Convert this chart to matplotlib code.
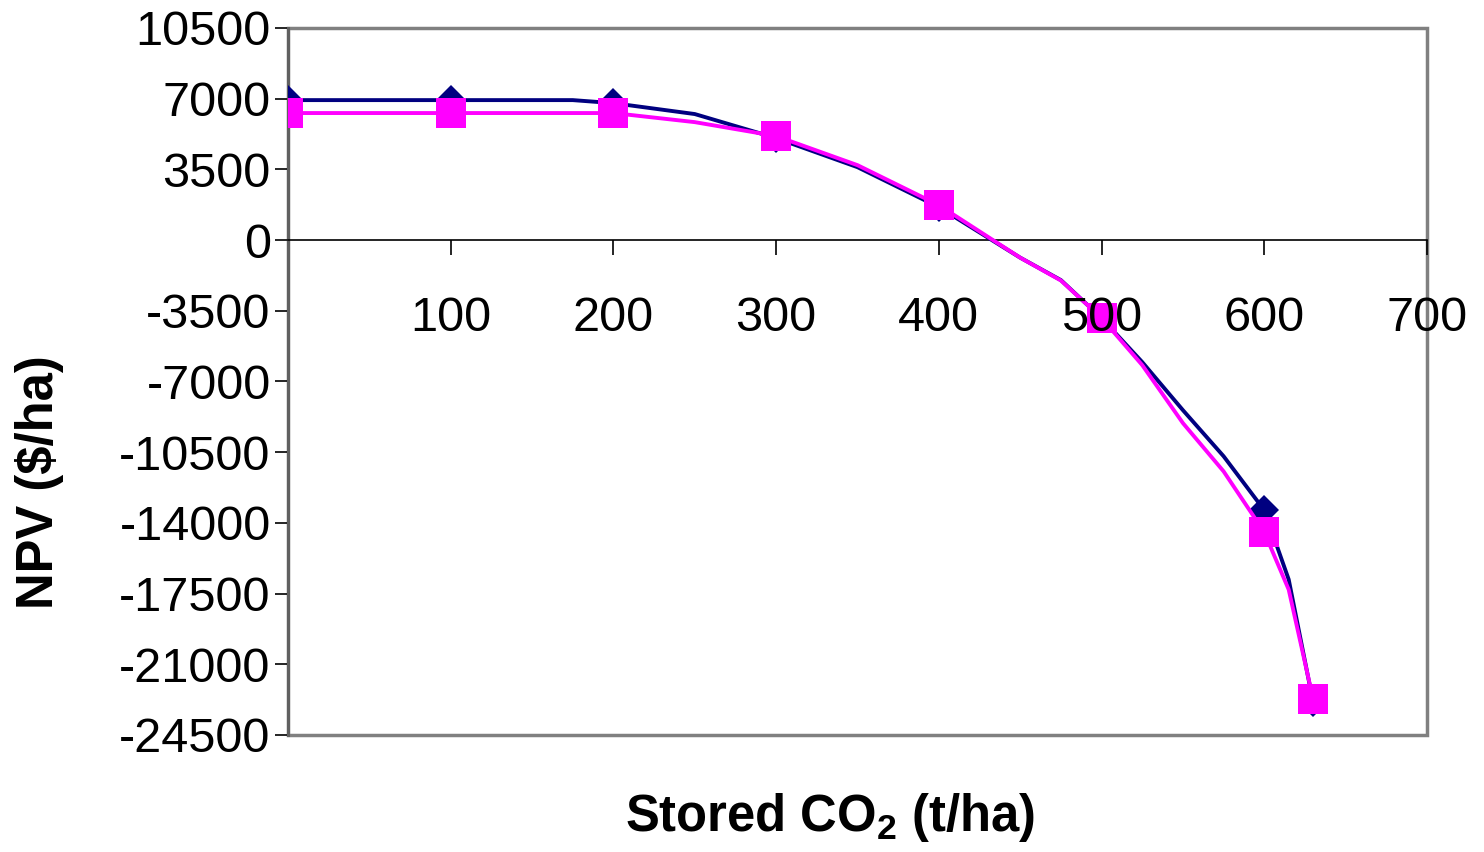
import numpy as np
import matplotlib
matplotlib.use("Agg")
from matplotlib import pyplot as plt
from matplotlib.patches import Rectangle

plt.rcParams['font.family'] = ['Liberation Sans', 'DejaVu Sans']
plt.rcParams['axes.unicode_minus'] = False
plt.rcParams['mathtext.fontset'] = 'custom'
plt.rcParams['mathtext.rm'] = 'Liberation Sans'
plt.rcParams['mathtext.bf'] = 'Liberation Sans:bold'

# stored CO2 (t/ha) along the curves
stored_co2 = [0, 100, 175, 200, 250, 300, 350, 400, 450, 475, 500, 525, 550, 575, 600, 615, 630]
# NPV ($/ha) for the two series
npv_navy = [6930, 6930, 6930, 6780, 6240, 5050, 3610, 1630, -870, -1980, -3860,
            -6040, -8420, -10700, -13370, -16800, -22870]
npv_magenta = [6290, 6290, 6290, 6290, 5840, 5150, 3710, 1730, -870, -2000, -3860,
               -6190, -9060, -11450, -14460, -17300, -22720]
# points that carry a marker (0,100,200,...,600,630)
marker_idx = [0, 1, 3, 5, 7, 10, 14, 16]

x_ticks = [100, 200, 300, 400, 500, 600, 700]
y_ticks = list(range(-24500, 10501, 3500))

fig = plt.figure(figsize=(14.84, 8.52), dpi=100)
ax = fig.add_axes([288/1484, 1-735/852, (1427-288)/1484, (735-28)/852])

ax.plot(stored_co2, npv_navy, color='#000080', lw=2.8, marker='D', markersize=15,
        markevery=marker_idx, markeredgewidth=0, zorder=3)
ax.plot(stored_co2, npv_magenta, color='#FF00FF', lw=2.8, marker='s', markersize=21,
        markevery=marker_idx, markeredgewidth=0, zorder=4)

ax.set_xlim(0, 700)
ax.set_ylim(-24500, 10500)

# category axis crosses at zero
ax.spines['bottom'].set_position(('data', 0))
ax.spines['bottom'].set_color('black')
ax.spines['bottom'].set_linewidth(1.2)
ax.spines['left'].set_color('#606060')
ax.spines['left'].set_linewidth(2.2)
ax.spines['top'].set_visible(False)
ax.spines['right'].set_visible(False)
ax.add_patch(Rectangle((0, 0), 1, 1, transform=ax.transAxes, fill=False,
                       edgecolor='#808080', lw=2.5, clip_on=False, zorder=1))

ax.set_xticks(x_ticks)
ax.set_xticklabels([str(v) for v in x_ticks])
ax.set_yticks(y_ticks)
ax.set_yticklabels([str(v) for v in y_ticks])
ax.tick_params(axis='x', direction='out', length=11, width=1.2, pad=29, labelsize=35)
ax.tick_params(axis='y', direction='out', length=9.5, width=1.2, pad=3, labelsize=35)
ax.xaxis.set_zorder(5)  # tick labels sit on top of the markers

fig.text(40/1484, 1-482/852, 'NPV ($/ha)', rotation=90, fontsize=36.5, fontweight='bold',
         ha='center', va='center')
fig.text(830/1484, 1-818/852, r'Stored CO$_{\mathbf{2}}$ (t/ha)', fontsize=36.5,
         fontweight='bold', ha='center', va='center')

fig.savefig('out.png', dpi=100)
